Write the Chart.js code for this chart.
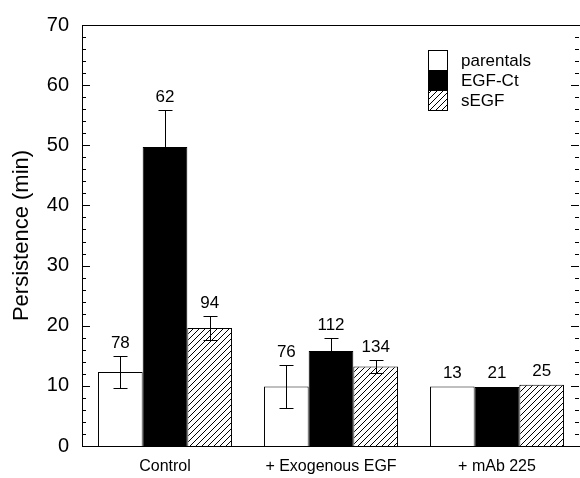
<!DOCTYPE html>
<html>
<head>
<meta charset="utf-8">
<script src="https://cdn.jsdelivr.net/npm/chart.js@4.4.0/dist/chart.umd.min.js"></script>
<style>
  html, body { margin: 0; padding: 0; background: #fff; }
</style>
</head>
<body>
<canvas id="chart" width="580" height="478"></canvas>
<script>
const categories = ["Control", "+ Exogenous EGF", "+ mAb 225"];
const seriesNames = ["parentals", "EGF-Ct", "sEGF"];

// mean persistence (min)
const parentals = [12.3, 9.9, 9.9];
const egfCt = [49.7, 15.8, 9.8];
const sEgf = [19.6, 13.2, 10.2];

// error bar half-heights
const parentalsErr = [2.6, 3.5, 0];
const egfCtErr = [6.2, 2.1, 0];
const sEgfErr = [2.0, 1.1, 0];

// number of cells written above each bar
const parentalsN = [78, 76, 13];
const egfCtN = [62, 112, 21];
const sEgfN = [94, 134, 25];

const yMin = 0, yMax = 70, yStep = 10, yMinorStep = 2;

const FONT = "'Liberation Sans', Arial, Helvetica, sans-serif";

function makeHatch() {
    const s = 6;
    const c = document.createElement('canvas');
    c.width = s; c.height = s;
    const g = c.getContext('2d');
    g.fillStyle = '#fff';
    g.fillRect(0, 0, s, s);
    g.strokeStyle = '#000';
    g.lineWidth = 1;
    g.beginPath();
    g.moveTo(0, s); g.lineTo(s, 0);
    g.moveTo(-1, 1); g.lineTo(1, -1);
    g.moveTo(s - 1, s + 1); g.lineTo(s + 1, s - 1);
    g.stroke();
    return g.createPattern(c, 'repeat');
}

const hatch = makeHatch();
const errs = [parentalsErr, egfCtErr, sEgfErr];
const counts = [parentalsN, egfCtN, sEgfN];

// error bars + counts above the bars
const barExtras = {
    id: 'barExtras',
    afterDatasetsDraw(chart) {
        const ctx = chart.ctx, y = chart.scales.y;
        ctx.save();
        ctx.strokeStyle = '#000';
        ctx.lineWidth = 1;
        ctx.fillStyle = '#000';
        ctx.font = '17px ' + FONT;
        ctx.textAlign = 'center';
        ctx.textBaseline = 'bottom';
        chart.data.datasets.forEach((ds, di) => {
            const meta = chart.getDatasetMeta(di);
            meta.data.forEach((bar, i) => {
                const v = ds.data[i], e = errs[di][i];
                const x = Math.round(bar.x) + 0.5;
                let top = y.getPixelForValue(v);
                if (e > 0) {
                    const yt = Math.round(y.getPixelForValue(v + e)) + 0.5;
                    const yb = Math.round(y.getPixelForValue(v - e)) + 0.5;
                    ctx.beginPath();
                    ctx.moveTo(x, yt); ctx.lineTo(x, yb);
                    ctx.moveTo(x - 7, yt); ctx.lineTo(x + 7, yt);
                    ctx.moveTo(x - 7, yb); ctx.lineTo(x + 7, yb);
                    ctx.stroke();
                    top = yt;
                }
                ctx.fillText(String(counts[di][i]), bar.x, top - 5);
            });
        });
        ctx.restore();
    }
};

// box frame with inward ticks on left and right
const frame = {
    id: 'frame',
    afterDraw(chart) {
        const ctx = chart.ctx, a = chart.chartArea, y = chart.scales.y;
        ctx.save();
        ctx.strokeStyle = '#000';
        ctx.lineWidth = 1;
        ctx.beginPath();
        ctx.moveTo(a.left, a.top + 0.5);
        ctx.lineTo(a.right, a.top + 0.5);
        for (let v = yMin; v <= yMax; v += yMinorStep) {
            const p = Math.round(y.getPixelForValue(v)) + 0.5;
            const len = v % yStep === 0 ? 8 : 4;
            ctx.moveTo(a.left, p); ctx.lineTo(a.left + len, p);
            ctx.moveTo(a.right - 1, p); ctx.lineTo(a.right - 1 - len, p);
        }
        ctx.stroke();

        // legend
        const bx = 428, by = 50, bw = 19, bh = 20;
        ctx.font = '17px ' + FONT;
        ctx.textAlign = 'left';
        ctx.textBaseline = 'middle';
        chart.data.datasets.forEach((ds, i) => {
            const top = by + i * bh;
            ctx.fillStyle = ds.backgroundColor;
            ctx.fillRect(bx, top, bw, bh);
            ctx.strokeRect(bx + 0.5, top + 0.5, bw, bh);
            ctx.fillStyle = '#000';
            ctx.fillText(ds.label, 461, top + bh / 2 + 1);
        });
        ctx.restore();
    }
};

new Chart(document.getElementById('chart'), {
    type: 'bar',
    data: {
        labels: categories,
        datasets: [
            { label: seriesNames[0], data: parentals, backgroundColor: '#fff' },
            { label: seriesNames[1], data: egfCt, backgroundColor: '#000' },
            { label: seriesNames[2], data: sEgf, backgroundColor: hatch }
        ]
    },
    options: {
        responsive: false,
        animation: false,
        layout: { padding: { top: 20, right: 0, left: 0, bottom: 0 } },
        datasets: {
            bar: {
                borderColor: '#000',
                borderWidth: 1,
                categoryPercentage: 0.807,
                barPercentage: 1
            }
        },
        plugins: {
            legend: { display: false },
            tooltip: { enabled: false }
        },
        scales: {
            x: {
                grid: { display: false, drawTicks: false },
                border: { display: true, color: '#000', width: 1 },
                ticks: { color: '#000', font: { family: FONT, size: 16 }, padding: 11 },
                afterFit(scale) { scale.height = 32; }
            },
            y: {
                min: yMin,
                max: yMax,
                grid: { display: false, drawTicks: false },
                border: { display: true, color: '#000', width: 1 },
                ticks: { stepSize: yStep, color: '#000', font: { family: FONT, size: 20 }, padding: 13 },
                title: {
                    display: true,
                    text: 'Persistence (min)',
                    color: '#000',
                    font: { family: FONT, size: 22 },
                    padding: { top: 9, bottom: 0 }
                },
                afterFit(scale) { scale.width = 82; }
            }
        }
    },
    plugins: [barExtras, frame]
});
</script>
</body>
</html>
